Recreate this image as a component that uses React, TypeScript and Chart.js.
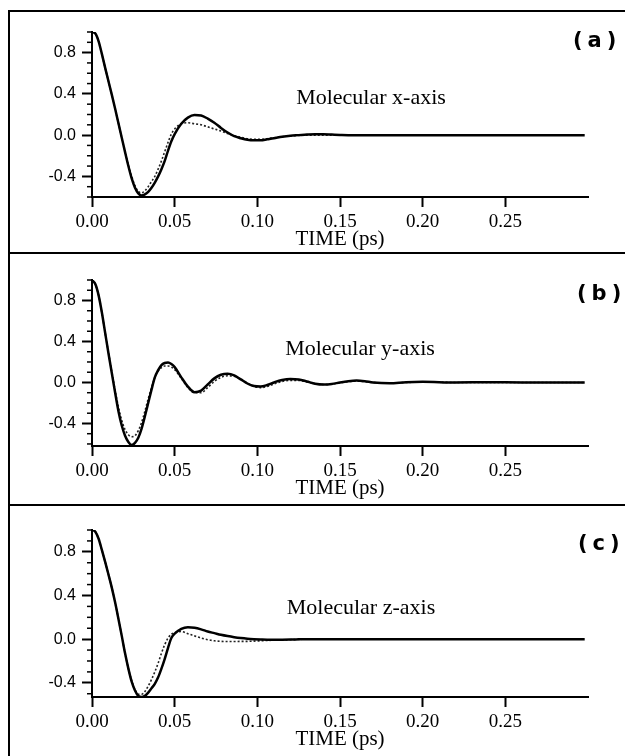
import React, { useEffect, useRef } from 'react';
import { Chart, registerables } from 'chart.js';

Chart.register(...registerables);

// ---------- data ----------
const TIME = [
  0, 0.002, 0.004, 0.006, 0.008, 0.010, 0.012, 0.014, 0.016, 0.018,
  0.020, 0.022, 0.024, 0.026, 0.028, 0.030, 0.032, 0.034, 0.036, 0.038,
  0.040, 0.042, 0.044, 0.046, 0.048, 0.050, 0.054, 0.058, 0.062, 0.066,
  0.070, 0.074, 0.078, 0.082, 0.086, 0.090, 0.094, 0.098, 0.102, 0.106,
  0.110, 0.115, 0.120, 0.125, 0.130, 0.135, 0.140, 0.145, 0.150, 0.155,
  0.160, 0.165, 0.170, 0.180, 0.190, 0.200, 0.220, 0.240, 0.260, 0.280,
  0.298,
];

const X_SOLID = [
  1.0, 0.985, 0.91, 0.785, 0.65, 0.52, 0.39, 0.255, 0.115, -0.025,
  -0.165, -0.30, -0.42, -0.51, -0.565, -0.585, -0.575, -0.55, -0.51, -0.46,
  -0.40, -0.33, -0.25, -0.15, -0.06, 0.01, 0.11, 0.17, 0.195, 0.19,
  0.16, 0.12, 0.07, 0.025, -0.01, -0.03, -0.045, -0.05, -0.05, -0.04,
  -0.03, -0.015, -0.005, 0.0, 0.005, 0.008, 0.008, 0.005, 0.002, 0,
  0, 0, 0, 0, 0, 0, 0, 0, 0, 0,
  0,
];
const X_DOTTED = [
  1.0, 0.985, 0.91, 0.785, 0.65, 0.52, 0.39, 0.255, 0.115, -0.025,
  -0.16, -0.29, -0.40, -0.49, -0.545, -0.56, -0.54, -0.50, -0.45, -0.40,
  -0.33, -0.25, -0.16, -0.07, 0.01, 0.06, 0.11, 0.12, 0.11, 0.10,
  0.08, 0.06, 0.04, 0.015, -0.005, -0.02, -0.035, -0.04, -0.04, -0.035,
  -0.025, -0.015, -0.008, -0.003, 0, 0, 0, 0, 0, 0,
  0, 0, 0, 0, 0, 0, 0, 0, 0, 0,
  0,
];
const Y_SOLID = [
  1.0, 0.96, 0.85, 0.68, 0.48, 0.28, 0.09, -0.10, -0.28, -0.42,
  -0.52, -0.58, -0.61, -0.59, -0.54, -0.45, -0.33, -0.20, -0.07, 0.05,
  0.12, 0.17, 0.19, 0.195, 0.18, 0.15, 0.05, -0.04, -0.095, -0.08,
  -0.02, 0.04, 0.075, 0.085, 0.07, 0.03, -0.01, -0.035, -0.04, -0.025,
  0.0, 0.025, 0.035, 0.03, 0.01, -0.012, -0.02, -0.015, 0.0, 0.012,
  0.018, 0.012, 0.0, -0.008, 0.003, 0.006, 0.0, 0.003, 0.0, 0.0,
  0,
];
const Y_DOTTED = [
  1.0, 0.96, 0.85, 0.68, 0.48, 0.29, 0.10, -0.08, -0.24, -0.37,
  -0.46, -0.51, -0.53, -0.52, -0.47, -0.39, -0.28, -0.16, -0.05, 0.05,
  0.11, 0.145, 0.16, 0.16, 0.15, 0.125, 0.04, -0.05, -0.10, -0.10,
  -0.05, 0.01, 0.05, 0.065, 0.06, 0.03, -0.01, -0.04, -0.05, -0.04,
  -0.015, 0.01, 0.02, 0.02, 0.005, -0.012, -0.02, -0.015, -0.003, 0.008,
  0.012, 0.008, 0.0, -0.006, 0.0, 0.004, 0.0, 0.0, 0.0, 0.0,
  0,
];
const Z_SOLID = [
  1.0, 0.985, 0.92, 0.815, 0.705, 0.59, 0.47, 0.335, 0.185, 0.03,
  -0.13, -0.27, -0.39, -0.47, -0.52, -0.53, -0.52, -0.49, -0.45, -0.41,
  -0.35, -0.27, -0.18, -0.08, 0.01, 0.05, 0.095, 0.11, 0.105, 0.09,
  0.07, 0.055, 0.04, 0.028, 0.018, 0.01, 0.004, 0.0, -0.003, -0.005,
  -0.005, -0.005, -0.004, -0.002, 0, 0, 0, 0, 0, 0,
  0, 0, 0, 0, 0, 0, 0, 0, 0, 0,
  0,
];
const Z_DOTTED = [
  1.0, 0.985, 0.92, 0.815, 0.705, 0.59, 0.47, 0.335, 0.185, 0.03,
  -0.13, -0.27, -0.38, -0.46, -0.505, -0.505, -0.48, -0.43, -0.37, -0.30,
  -0.22, -0.13, -0.05, 0.01, 0.045, 0.06, 0.07, 0.05, 0.03, 0.01,
  -0.005, -0.015, -0.02, -0.022, -0.022, -0.02, -0.02, -0.018, -0.015, -0.012,
  -0.01, -0.008, -0.005, -0.003, 0, 0, 0, 0, 0, 0,
  0, 0, 0, 0, 0, 0, 0, 0, 0, 0,
  0,
];

const X_TICKS = [0, 0.05, 0.1, 0.15, 0.2, 0.25];
const Y_TICKS = [-0.4, 0, 0.4, 0.8];
const Y_MINOR = [-0.6, -0.5, -0.3, -0.2, -0.1, 0.1, 0.2, 0.3, 0.5, 0.6, 0.7, 0.9, 1.0];
const X_MIN = 0;
const X_MAX = 0.3;
const Y_MAX = 1.0;
const Y_MINS = [-0.6, -0.62, -0.53];
const TAGS = ['(a)', '(b)', '(c)'];
const NAMES = ['Molecular x-axis', 'Molecular y-axis', 'Molecular z-axis'];
const X_TITLE = 'TIME (ps)';
const SERIES = [
  [X_SOLID, X_DOTTED],
  [Y_SOLID, Y_DOTTED],
  [Z_SOLID, Z_DOTTED],
];

// ---------- layout (page pixels) ----------
const LAYOUT = [
  { top: 12, height: 241, plotTop: 32, plotBottom: 197, tagX: 573, tagY: 42, nameX: 371, nameY: 98 },
  { top: 254, height: 251, plotTop: 280, plotBottom: 446, tagX: 577, tagY: 295, nameX: 360, nameY: 349 },
  { top: 506, height: 250, plotTop: 530, plotBottom: 697, tagX: 578, tagY: 545, nameX: 361, nameY: 608 },
];
const LEFT = 8;
const WIDTH = 617;
const PLOT_LEFT = 92;
const PLOT_RIGHT = 588;
const X_AXIS_H = 55;

function Panel({ idx }: { idx: number }) {
  const ref = useRef<HTMLCanvasElement | null>(null);
  useEffect(() => {
    const L = LAYOUT[idx];
    const [solid, dotted] = SERIES[idx];
    const annot = {
      id: 'annot' + idx,
      afterDraw(chart: any) {
        const ctx = chart.ctx as CanvasRenderingContext2D;
        const y = chart.scales.y;
        const area = chart.chartArea;
        ctx.save();
        ctx.strokeStyle = '#000';
        ctx.lineWidth = 1.5;
        Y_MINOR.forEach((v) => {
          if (v < y.min - 1e-9 || v > y.max + 1e-9) return;
          const py = y.getPixelForValue(v);
          ctx.beginPath();
          ctx.moveTo(area.left - 5, py);
          ctx.lineTo(area.left, py);
          ctx.stroke();
        });
        ctx.fillStyle = '#000';
        ctx.textBaseline = 'middle';
        ctx.font = 'bold 21px "DejaVu Sans"';
        (ctx as any).letterSpacing = '5px';
        ctx.textAlign = 'left';
        ctx.fillText(TAGS[idx], L.tagX - LEFT, L.tagY - L.top);
        (ctx as any).letterSpacing = '0px';
        ctx.font = '22px "Liberation Serif"';
        ctx.textAlign = 'center';
        ctx.fillText(NAMES[idx], L.nameX - LEFT, L.nameY - L.top);
        ctx.restore();
      },
    };
    const chart = new Chart(ref.current as HTMLCanvasElement, {
      type: 'line',
      data: {
        datasets: [
          {
            data: TIME.map((t, i) => ({ x: t, y: solid[i] })),
            borderColor: '#000',
            borderWidth: 2.5,
            pointRadius: 0,
            cubicInterpolationMode: 'monotone',
            fill: false,
          },
          {
            data: TIME.map((t, i) => ({ x: t, y: dotted[i] })),
            borderColor: '#222',
            borderWidth: 1.6,
            borderDash: [2, 2],
            pointRadius: 0,
            cubicInterpolationMode: 'monotone',
            fill: false,
          },
        ],
      },
      options: {
        animation: false,
        responsive: false,
        maintainAspectRatio: false,
        events: [],
        layout: {
          padding: {
            left: 0,
            right: LEFT + WIDTH - PLOT_RIGHT,
            top: L.plotTop - L.top,
            bottom: L.height - (L.plotBottom - L.top) - X_AXIS_H,
          },
        },
        plugins: { legend: { display: false }, tooltip: { enabled: false } },
        scales: {
          x: {
            type: 'linear',
            min: X_MIN,
            max: X_MAX,
            afterBuildTicks: (s: any) => { s.ticks = X_TICKS.map((v) => ({ value: v })); },
            afterFit: (s: any) => { s.height = X_AXIS_H; },
            grid: { drawOnChartArea: false, drawTicks: true, tickLength: 10, tickWidth: 2, tickColor: '#000' },
            border: { display: true, color: '#000', width: 2 },
            ticks: {
              autoSkip: false,
              maxRotation: 0,
              padding: 4,
              color: '#000',
              font: { family: '"Liberation Serif"', size: 19 },
              callback: (v: any) => Number(v).toFixed(2),
            },
            title: {
              display: true,
              text: X_TITLE,
              color: '#000',
              padding: 0,
              font: { family: '"Liberation Serif"', size: 21 },
            },
          },
          y: {
            type: 'linear',
            min: Y_MINS[idx],
            max: Y_MAX,
            afterBuildTicks: (s: any) => { s.ticks = Y_TICKS.map((v) => ({ value: v })); },
            afterFit: (s: any) => { s.width = PLOT_LEFT - LEFT; },
            grid: { drawOnChartArea: false, drawTicks: true, tickLength: 10, tickWidth: 2, tickColor: '#000' },
            border: { display: true, color: '#000', width: 2 },
            ticks: {
              padding: 6,
              color: '#000',
              font: { family: '"Liberation Sans"', size: 16 },
              callback: (v: any) => Number(v).toFixed(1),
            },
          },
        },
      },
      plugins: [annot],
    } as any);
    return () => chart.destroy();
  }, [idx]);
  const L = LAYOUT[idx];
  return (
    <canvas
      ref={ref}
      width={WIDTH}
      height={L.height}
      style={{ position: 'absolute', left: LEFT, top: L.top, width: WIDTH, height: L.height }}
    />
  );
}

export default function App() {
  const line = { position: 'absolute' as const, background: '#000' };
  return (
    <div style={{ position: 'absolute', left: 0, top: 0, width: 625, height: 756, background: '#fff', overflow: 'hidden' }}>
      <Panel idx={0} />
      <Panel idx={1} />
      <Panel idx={2} />
      <div style={{ ...line, left: 8, top: 10, width: 617, height: 2 }} />
      <div style={{ ...line, left: 8, top: 252, width: 617, height: 2 }} />
      <div style={{ ...line, left: 8, top: 504, width: 617, height: 2 }} />
      <div style={{ ...line, left: 8, top: 10, width: 2, height: 746 }} />
    </div>
  );
}
